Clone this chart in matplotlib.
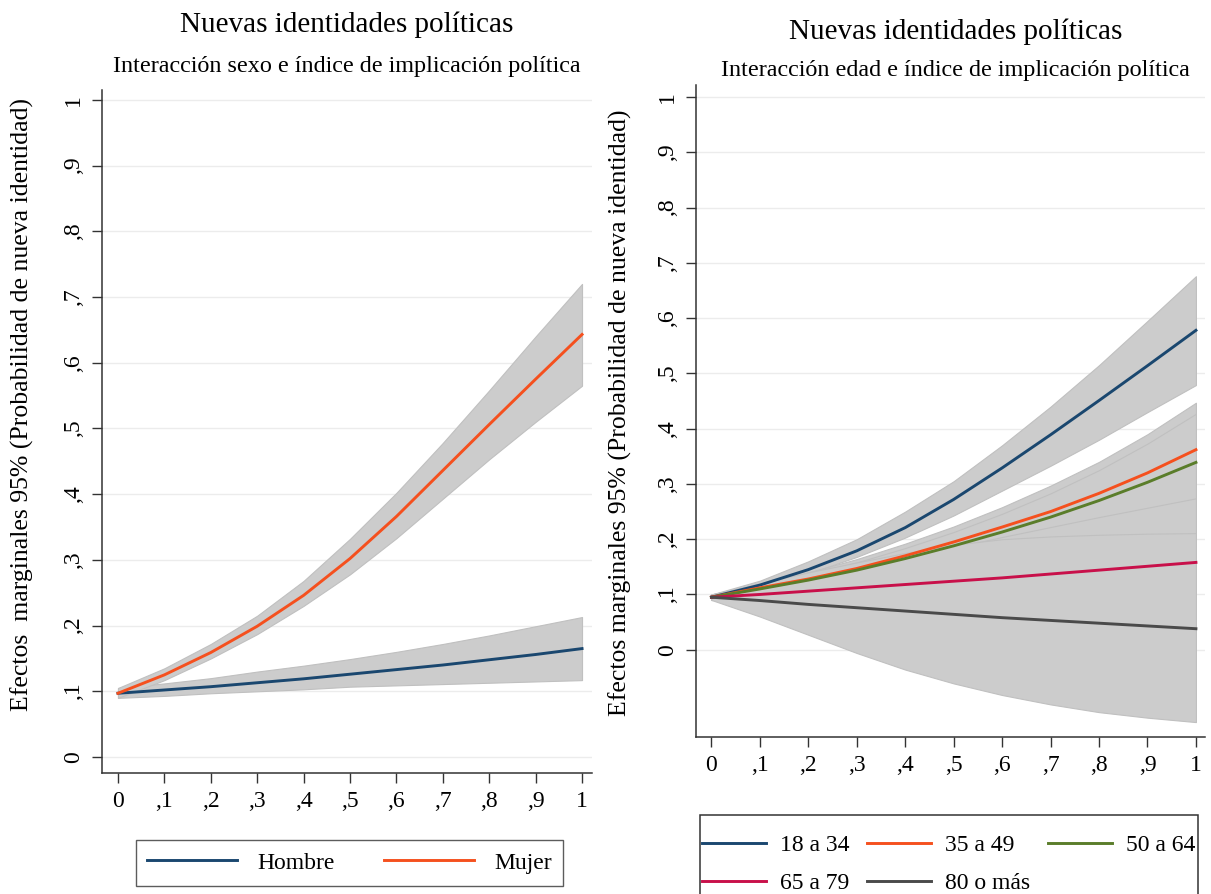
import matplotlib.pyplot as plt
from matplotlib.patches import Rectangle

plt.rcParams['font.family'] = ['Liberation Serif', 'DejaVu Serif']

# indice de implicacion politica
x = [0, 0.1, 0.2, 0.3, 0.4, 0.5, 0.6, 0.7, 0.8, 0.9, 1]
xtick_labels = ['0', ',1', ',2', ',3', ',4', ',5', ',6', ',7', ',8', ',9', '1']
ytick_vals = [0, 0.1, 0.2, 0.3, 0.4, 0.5, 0.6, 0.7, 0.8, 0.9, 1]
ytick_labels = ['0', ',1', ',2', ',3', ',4', ',5', ',6', ',7', ',8', ',9', '1']

# sexo
hombre = [0.097, 0.102, 0.107, 0.113, 0.119, 0.126, 0.133, 0.140, 0.148, 0.156, 0.165]
hombre_hi = [0.105, 0.112, 0.120, 0.130, 0.139, 0.149, 0.160, 0.172, 0.185, 0.199, 0.213]
hombre_lo = [0.090, 0.093, 0.097, 0.100, 0.103, 0.107, 0.109, 0.111, 0.113, 0.115, 0.117]
mujer = [0.097, 0.125, 0.159, 0.199, 0.246, 0.302, 0.366, 0.436, 0.506, 0.575, 0.643]
mujer_hi = [0.105, 0.135, 0.172, 0.215, 0.268, 0.332, 0.402, 0.478, 0.558, 0.640, 0.720]
mujer_lo = [0.090, 0.117, 0.150, 0.187, 0.230, 0.278, 0.333, 0.393, 0.453, 0.510, 0.565]

# edad
e18 = [0.095, 0.117, 0.145, 0.179, 0.221, 0.272, 0.329, 0.389, 0.451, 0.514, 0.578]
e18_hi = [0.100, 0.125, 0.160, 0.200, 0.250, 0.305, 0.370, 0.440, 0.515, 0.595, 0.676]
e18_lo = [0.090, 0.112, 0.138, 0.168, 0.203, 0.243, 0.288, 0.333, 0.380, 0.430, 0.479]
e35 = [0.095, 0.112, 0.128, 0.147, 0.170, 0.195, 0.222, 0.250, 0.283, 0.320, 0.362]
e35_hi = [0.100, 0.118, 0.140, 0.164, 0.192, 0.223, 0.258, 0.297, 0.340, 0.390, 0.447]
e35_lo = [0.090, 0.104, 0.116, 0.128, 0.142, 0.158, 0.176, 0.196, 0.220, 0.246, 0.277]
e50 = [0.095, 0.110, 0.126, 0.144, 0.165, 0.188, 0.213, 0.240, 0.270, 0.303, 0.339]
e50_hi = [0.100, 0.116, 0.136, 0.158, 0.184, 0.213, 0.246, 0.283, 0.325, 0.373, 0.427]
e50_lo = [0.090, 0.102, 0.113, 0.125, 0.138, 0.153, 0.170, 0.188, 0.207, 0.228, 0.251]
e65 = [0.095, 0.100, 0.106, 0.112, 0.118, 0.124, 0.130, 0.137, 0.144, 0.151, 0.158]
e65_hi = [0.100, 0.112, 0.128, 0.146, 0.165, 0.185, 0.204, 0.222, 0.240, 0.257, 0.274]
e65_lo = [0.090, 0.088, 0.084, 0.079, 0.073, 0.067, 0.062, 0.058, 0.054, 0.050, 0.046]
e80 = [0.095, 0.089, 0.082, 0.076, 0.070, 0.064, 0.058, 0.053, 0.048, 0.043, 0.038]
e80_hi = [0.100, 0.120, 0.140, 0.158, 0.175, 0.190, 0.200, 0.205, 0.208, 0.210, 0.211]
e80_lo = [0.090, 0.060, 0.027, -0.006, -0.036, -0.061, -0.082, -0.099, -0.113, -0.123, -0.131]

band = '#cccccc'
band_edge = '#c0c0c0'
navy = '#1a476f'
orange = '#f5501e'
green = '#5a7d2a'
cranberry = '#c8104a'
dgrey = '#4a4a4a'

fig = plt.figure(figsize=(12.11, 8.94), dpi=100)
ax1 = fig.add_axes([0.0842, 0.1353, 0.4047, 0.764])
ax2 = fig.add_axes([0.5747, 0.1756, 0.4203, 0.7293])


def style(ax, ylim, ylabel, label_xy):
    ax.set_xlim(-0.0345, 1.0216)
    ax.set_ylim(*ylim)
    ax.set_xticks(x)
    ax.set_xticklabels(xtick_labels, fontsize=17)
    ax.set_yticks(ytick_vals)
    ax.set_yticklabels(ytick_labels, fontsize=17, rotation=90, va='center')
    ax.tick_params(direction='out', length=7, width=1, color='#333333', pad=6)
    for s in ['top', 'right']:
        ax.spines[s].set_visible(False)
    for s in ['left', 'bottom']:
        ax.spines[s].set_color('#333333')
        ax.spines[s].set_linewidth(1.1)
    ax.grid(axis='y', color='#ececec', linewidth=1)
    ax.set_axisbelow(True)
    ax.set_ylabel(ylabel, fontsize=18.5)
    ax.yaxis.set_label_coords(*label_xy)


# panel izquierdo: sexo
for lo, hi in [(hombre_lo, hombre_hi), (mujer_lo, mujer_hi)]:
    ax1.fill_between(x, lo, hi, facecolor=band, edgecolor=band_edge, linewidth=0.8)
ax1.plot(x, hombre, color=navy, lw=2.1, label='Hombre')
ax1.plot(x, mujer, color=orange, lw=2.1, label='Mujer')
style(ax1, (-0.0244, 1.015),
      'Efectos  marginales 95% (Probabilidad de nueva identidad)', (-0.139, 0.539))
fig.text(0.2866, 0.972, 'Nuevas identidades políticas', ha='center', va='center', fontsize=21)
fig.text(0.2866, 0.926, 'Interacción sexo e índice de implicación política',
         ha='center', va='center', fontsize=17.4)
fig.legend(handles=ax1.get_lines(), loc='center', bbox_to_anchor=(0.2886, 0.0347),
           ncol=2, fontsize=17, frameon=True, fancybox=False, edgecolor='#333333',
           handlelength=3.8, handletextpad=0.85, columnspacing=2.1, borderpad=0.5)

# panel derecho: edad
bands = [(e18_lo, e18_hi), (e35_lo, e35_hi), (e50_lo, e50_hi),
         (e65_lo, e65_hi), (e80_lo, e80_hi)]
for lo, hi in bands:
    ax2.fill_between(x, lo, hi, facecolor=band, edgecolor=band_edge, linewidth=0.8)
l18, = ax2.plot(x, e18, color=navy, lw=2.1, label='18 a 34')
l35, = ax2.plot(x, e35, color=orange, lw=2.1, label='35 a 49')
l50, = ax2.plot(x, e50, color=green, lw=2.1, label='50 a 64')
l65, = ax2.plot(x, e65, color=cranberry, lw=2.1, label='65 a 79')
l80, = ax2.plot(x, e80, color=dgrey, lw=2.1, label='80 o más')
style(ax2, (-0.158, 1.022),
      'Efectos marginales 95% (Probabilidad de nueva identidad)', (-0.126, 0.498))
ax2.set_xlim(-0.032, 1.0186)
fig.text(0.789, 0.964, 'Nuevas identidades políticas', ha='center', va='center', fontsize=21)
fig.text(0.789, 0.921, 'Interacción edad e índice de implicación política',
         ha='center', va='center', fontsize=17.4)
# column-major fill, so order handles to read row by row
fig.legend(handles=[l18, l65, l35, l80, l50], loc='upper left',
           bbox_to_anchor=(0.5797, 0.0665),
           ncol=3, fontsize=17, frameon=False,
           handlelength=2.7, handletextpad=0.6, columnspacing=0.75,
           borderpad=0, borderaxespad=0, labelspacing=0.7)
# legend frame runs past the bottom edge of the figure
fig.add_artist(Rectangle((0.578, -0.02), 0.411, 0.1084, transform=fig.transFigure,
                         facecolor='none', edgecolor='#333333', linewidth=1.1))

fig.savefig('out.png', dpi=100, facecolor='white')
